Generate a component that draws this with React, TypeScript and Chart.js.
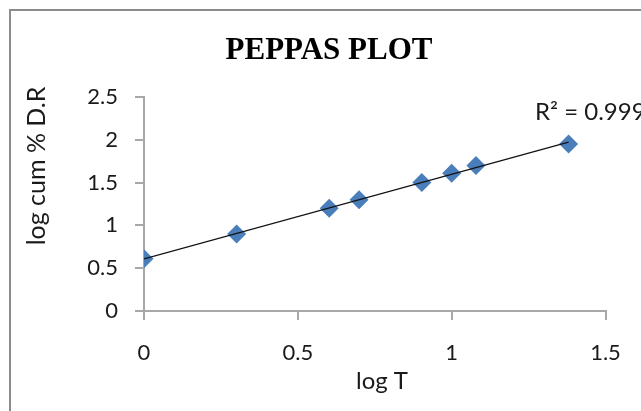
import React, { useEffect, useRef } from "react";
import { Chart, registerables } from "chart.js";

Chart.register(...registerables);

// ---- data ----
const logT = [0, 0.301, 0.602, 0.699, 0.903, 1.0, 1.079, 1.38];
const logCumDR = [0.61, 0.9, 1.2, 1.3, 1.5, 1.61, 1.7, 1.95];
const xTicks = [0, 0.5, 1, 1.5];
const yTicks = [0, 0.5, 1, 1.5, 2, 2.5];
const chartTitle = "PEPPAS PLOT";
const xAxisTitle = "log T";
const yAxisTitle = "log cum % D.R";
const r2Label = "R² = 0.999";

// least squares trendline from the data
function fitLine(xs: number[], ys: number[]) {
  const n = xs.length;
  const mx = xs.reduce((a, b) => a + b, 0) / n;
  const my = ys.reduce((a, b) => a + b, 0) / n;
  let sxy = 0;
  let sxx = 0;
  for (let i = 0; i < n; i++) {
    sxy += (xs[i] - mx) * (ys[i] - my);
    sxx += (xs[i] - mx) * (xs[i] - mx);
  }
  const slope = sxy / sxx;
  return { slope, intercept: my - slope * mx };
}

const FONT = "Lato";
const TEXT = "#1a1a1a";
const AXIS = "#a8a8a8";

export default function App() {
  const ref = useRef<HTMLCanvasElement | null>(null);

  useEffect(() => {
    if (!ref.current) return;
    const fit = fitLine(logT, logCumDR);
    const xMin = Math.min(...logT);
    const xMax = Math.max(...logT);
    const trend = [
      { x: xMin, y: fit.intercept + fit.slope * xMin },
      { x: xMax, y: fit.intercept + fit.slope * xMax },
    ];

    const decor = {
      id: "decor",
      afterDraw(chart: any) {
        const ctx = chart.ctx;
        ctx.save();
        // outer frame
        ctx.strokeStyle = "#8c8c8c";
        ctx.lineWidth = 2;
        ctx.strokeRect(10, 10, 800, 600);
        // title
        ctx.fillStyle = "#000";
        ctx.font = "bold 31px 'Liberation Serif'";
        ctx.textAlign = "center";
        ctx.textBaseline = "alphabetic";
        ctx.fillText(chartTitle, 329, 59);
        // x title
        ctx.fillStyle = TEXT;
        ctx.font = `24px ${FONT}`;
        ctx.textBaseline = "middle";
        ctx.fillText(xAxisTitle, 382, 381);
        // y title
        ctx.save();
        ctx.translate(37, 166);
        ctx.rotate(-Math.PI / 2);
        ctx.font = `25px ${FONT}`;
        ctx.fillText(yAxisTitle, 0, 0);
        ctx.restore();
        // R^2 label
        ctx.textAlign = "left";
        ctx.font = `24px ${FONT}`;
        ctx.fillText(r2Label, 535, 112);
        ctx.restore();
      },
    };

    const chart = new Chart(ref.current, {
      type: "scatter",
      data: {
        datasets: [
          {
            label: "points",
            data: logT.map((x, i) => ({ x, y: logCumDR[i] })),
            pointStyle: "rectRot",
            pointRadius: 9.5,
            pointBackgroundColor: "#4a7ebb",
            pointBorderColor: "#4a7ebb",
            pointBorderWidth: 0,
            showLine: false,
            order: 1,
          },
          {
            label: "trend",
            data: trend,
            showLine: true,
            borderColor: "#111",
            borderWidth: 1.2,
            pointRadius: 0,
            order: 0,
          },
        ],
      },
      options: {
        animation: false,
        responsive: false,
        devicePixelRatio: 1,
        layout: { padding: { top: 97, right: 35.5, left: 0, bottom: 0 } },
        plugins: {
          legend: { display: false },
          tooltip: { enabled: false },
          title: { display: false },
        },
        scales: {
          x: {
            type: "linear",
            min: 0,
            max: 1.5,
            afterBuildTicks: (s: any) => {
              s.ticks = xTicks.map((v) => ({ value: v }));
            },
            afterFit: (s: any) => {
              s.height = 100;
            },
            ticks: {
              color: TEXT,
              font: { family: FONT, size: 22 },
              padding: 20,
              callback: (v: any) => String(v),
            },
            grid: {
              drawOnChartArea: false,
              drawTicks: true,
              tickLength: 9,
              color: AXIS,
              lineWidth: 2,
            },
            border: { display: true, color: AXIS, width: 2 },
          },
          y: {
            type: "linear",
            min: 0,
            max: 2.5,
            afterBuildTicks: (s: any) => {
              s.ticks = yTicks.map((v) => ({ value: v }));
            },
            afterFit: (s: any) => {
              s.width = 144;
            },
            ticks: {
              color: TEXT,
              font: { family: FONT, size: 22 },
              padding: 17,
              callback: (v: any) => String(v),
            },
            grid: {
              drawOnChartArea: false,
              drawTicks: true,
              tickLength: 9,
              color: AXIS,
              lineWidth: 2,
            },
            border: { display: true, color: AXIS, width: 2 },
          },
        },
      },
      plugins: [decor],
    });
    return () => chart.destroy();
  }, []);

  return (
    <div style={{ position: "fixed", left: 0, top: 0, width: 641, height: 411, background: "#fff" }}>
      <canvas ref={ref} width={641} height={411} style={{ width: 641, height: 411, display: "block" }} />
    </div>
  );
}
